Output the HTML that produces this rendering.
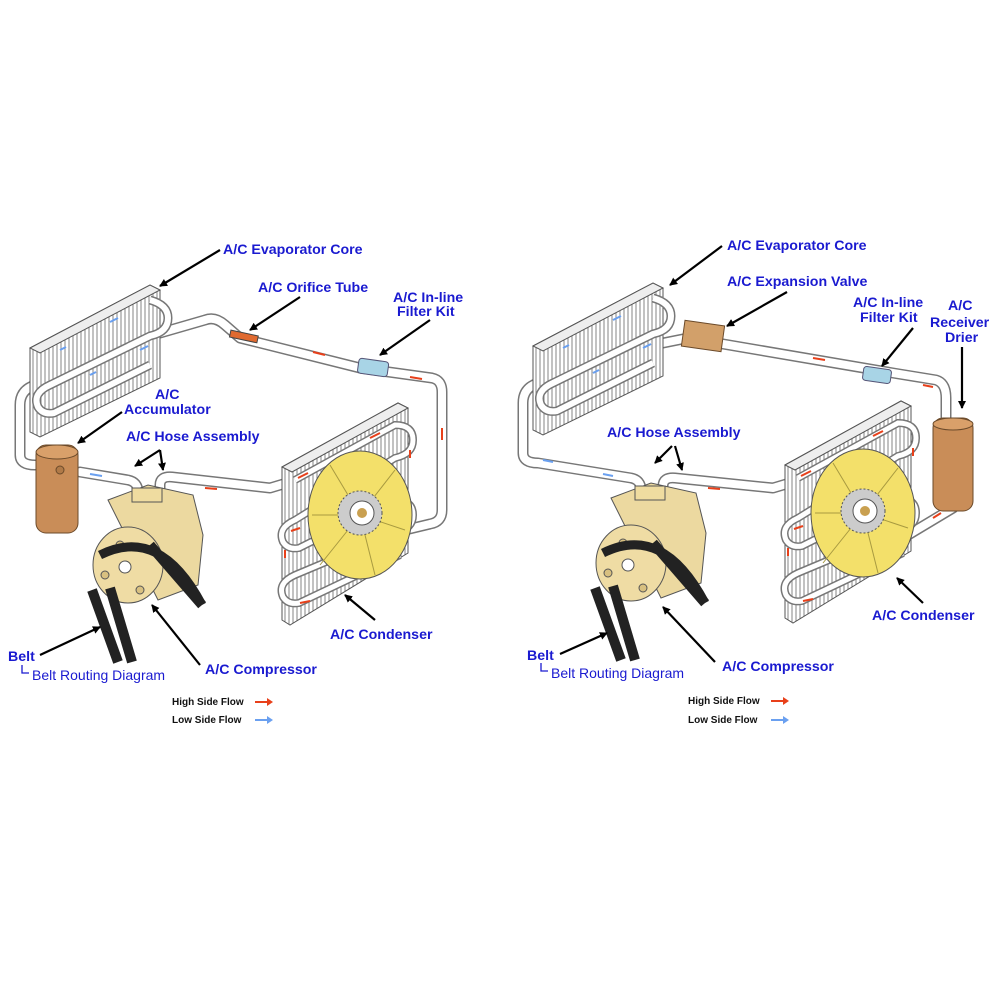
<!DOCTYPE html>
<html><head><meta charset="utf-8"><style>
html,body{margin:0;padding:0;background:#fff;}
svg{display:block}
.l{font-family:"Liberation Sans",Arial,sans-serif;font-weight:bold;font-size:14.2px;fill:#1a1ad0}
.n{font-family:"Liberation Sans",Arial,sans-serif;font-size:14px;fill:#1a1ad0}
.k{font-family:"Liberation Sans",Arial,sans-serif;font-weight:bold;font-size:10px;fill:#111}
.ar{stroke:#000;stroke-width:2.2;fill:none}
.po{fill:none;stroke:#777;stroke-width:11;stroke-linejoin:round;stroke-linecap:round}
.pi{fill:none;stroke:#fff;stroke-width:8;stroke-linejoin:round;stroke-linecap:round}
</style></head><body>
<svg width="1000" height="1000" viewBox="0 0 1000 1000" xmlns="http://www.w3.org/2000/svg">
<defs>
<marker id="ah" markerWidth="8" markerHeight="8" refX="7" refY="4" orient="auto" markerUnits="userSpaceOnUse"><path d="M0,0 L8,4 L0,8 z" fill="#000"/></marker>
<pattern id="hat" width="4" height="10" patternUnits="userSpaceOnUse"><rect width="4" height="10" fill="#fff"/><line x1="1" y1="0" x2="1" y2="10" stroke="#666" stroke-width="0.8"/></pattern>
<g id="evap">
  <polygon points="30,348 150,285 160,290 160,378 40,437 30,432" fill="url(#hat)" stroke="#555" stroke-width="1"/>
  <polygon points="30,348 150,285 160,290 40,353" fill="#eee" stroke="#555"/>
  <path d="M150,300 q18,5 18,18 q0,14 -18,18 L50,385 q-18,8 -12,22 q5,8 16,6 L150,365" fill="none" stroke="#777" stroke-width="9"/>
  <path d="M150,300 q18,5 18,18 q0,14 -18,18 L50,385 q-18,8 -12,22 q5,8 16,6 L150,365" fill="none" stroke="#fff" stroke-width="6"/>
  <path d="M60,350 l6,-3 M110,322 l8,-4 M90,375 l6,-3 M140,350 l8,-4" stroke="#6aa0f0" stroke-width="2"/>
</g>
<g id="cond">
  <polygon points="282,467 398,403 408,408 408,553 290,625 282,620" fill="url(#hat)" stroke="#555"/>
  <polygon points="282,467 398,403 408,408 292,472" fill="#eee" stroke="#555"/>
  <path d="M295,480 L395,425 q18,0 18,15 q0,14 -18,18 L295,520 q-18,8 -12,22 q5,8 16,6 L395,500 q18,0 18,15 q0,14 -18,18 L295,575 q-18,8 -12,22 q5,8 16,6 L400,555" fill="none" stroke="#777" stroke-width="8"/>
  <path d="M295,480 L395,425 q18,0 18,15 q0,14 -18,18 L295,520 q-18,8 -12,22 q5,8 16,6 L395,500 q18,0 18,15 q0,14 -18,18 L295,575 q-18,8 -12,22 q5,8 16,6 L400,555" fill="none" stroke="#fff" stroke-width="5"/>
  <path d="M298,478 l10,-5 M370,438 l10,-5 M410,450 l0,8 M300,528 l-9,3 M285,550 l0,8 M300,603 l10,-2 M370,570 l10,-4 M405,525 l-8,3" stroke="#e8401a" stroke-width="2"/>
  <ellipse cx="330" cy="505" rx="12" ry="28" fill="#3b6ad8"/>
  <ellipse cx="360" cy="515" rx="52" ry="64" fill="#f3e06a" stroke="#555"/>
  <path d="M360,515 L330,465 M360,515 L395,470 M360,515 L405,530 M360,515 L375,575 M360,515 L320,565 M360,515 L312,515" stroke="#a89a40" stroke-width="1"/>
  <circle cx="360" cy="513" r="22" fill="#ccc" stroke="#555" stroke-dasharray="2 2"/>
  <circle cx="362" cy="513" r="12" fill="#fff" stroke="#555"/>
  <circle cx="362" cy="513" r="5" fill="#c9a050"/>
</g>
<g id="comp">
  <path d="M108,500 l40,-15 l45,10 l10,40 l-5,50 l-40,15 z" fill="#ecd9a0" stroke="#555"/>
  <rect x="132" y="488" width="30" height="14" fill="#efdca0" stroke="#555"/>
  <ellipse cx="128" cy="565" rx="35" ry="38" fill="#efdca4" stroke="#555"/>
  <circle cx="105" cy="575" r="4" fill="#d8c080" stroke="#555"/>
  <circle cx="140" cy="590" r="4" fill="#d8c080" stroke="#555"/>
  <circle cx="120" cy="545" r="4" fill="#d8c080" stroke="#555"/>
  <circle cx="125" cy="567" r="6" fill="#fff" stroke="#555"/>
  <path d="M100,555 q60,-30 102,50" stroke="#222" stroke-width="9" fill="none"/>
  <path d="M150,545 L202,605" stroke="#222" stroke-width="10"/>
  <path d="M92,590 L118,662" stroke="#222" stroke-width="10"/>
  <path d="M110,588 L132,662" stroke="#222" stroke-width="10"/>
</g>
</defs>

<!-- LEFT DIAGRAM -->
<path class="po" d="M160,333 L205,320 Q215,316 225,325 L240,338 L360,368 L432,378 Q442,380 442,392 L442,510 Q442,522 430,524 L405,530"/>
<path class="pi" d="M160,333 L205,320 Q215,316 225,325 L240,338 L360,368 L432,378 Q442,380 442,392 L442,510 Q442,522 430,524 L405,530"/>
<path class="po" d="M35,385 Q20,390 20,405 L20,455 Q20,465 35,465"/>
<path class="pi" d="M35,385 Q20,390 20,405 L20,455 Q20,465 35,465"/>
<path class="po" d="M80,472 L128,480 Q138,482 138,492 L138,500"/>
<path class="pi" d="M80,472 L128,480 Q138,482 138,492 L138,500"/>
<path class="po" d="M160,495 L160,485 Q160,476 172,477 L270,488 L290,482"/>
<path class="pi" d="M160,495 L160,485 Q160,476 172,477 L270,488 L290,482"/>
<rect x="230" y="333" width="28" height="7" fill="#e06a30" stroke="#444" transform="rotate(12 244 336)"/>
<rect x="358" y="360" width="30" height="15" rx="3" fill="#a8d4e6" stroke="#557" transform="rotate(8 373 368)"/>
<path d="M313,352 l12,3 M410,377 l12,2 M442,440 l0,-12 M205,488 l12,1" stroke="#e8401a" stroke-width="2"/>
<path d="M90,474 l12,2 M138,488 l0,6" stroke="#6aa0f0" stroke-width="2"/>
<use href="#evap"/>
<use href="#cond"/>
<rect x="36" y="445" width="42" height="88" rx="10" fill="#c98d58" stroke="#6b4a2a"/>
<ellipse cx="57" cy="452" rx="21" ry="7" fill="#d9a06a" stroke="#6b4a2a"/>
<circle cx="60" cy="470" r="4" fill="#b07a48" stroke="#6b4a2a"/>
<use href="#comp"/>

<text class="l" x="223" y="254">A/C Evaporator Core</text>
<text class="l" x="258" y="292">A/C Orifice Tube</text>
<text class="l" x="393" y="302">A/C In-line</text>
<text class="l" x="397" y="316">Filter Kit</text>
<text class="l" x="155" y="399">A/C</text>
<text class="l" x="124" y="414">Accumulator</text>
<text class="l" x="126" y="441">A/C Hose Assembly</text>
<text class="l" x="8" y="661">Belt</text>
<path d="M22,665 l0,8 l7,0" stroke="#1a1ad0" fill="none" stroke-width="1.3"/>
<text class="n" x="32" y="680">Belt Routing Diagram</text>
<text class="l" x="205" y="674">A/C Compressor</text>
<text class="l" x="330" y="639">A/C Condenser</text>
<text class="k" x="172" y="705">High Side Flow</text>
<text class="k" x="172" y="723">Low Side Flow</text>
<path d="M255,702 l16,0" stroke="#e8401a" stroke-width="2"/><path d="M267,698 l6,4 l-6,4z" fill="#e8401a"/>
<path d="M255,720 l16,0" stroke="#6aa0f0" stroke-width="2"/><path d="M267,716 l6,4 l-6,4z" fill="#6aa0f0"/>

<line class="ar" x1="220" y1="250" x2="160" y2="286" marker-end="url(#ah)"/>
<line class="ar" x1="300" y1="297" x2="250" y2="330" marker-end="url(#ah)"/>
<line class="ar" x1="430" y1="320" x2="380" y2="355" marker-end="url(#ah)"/>
<line class="ar" x1="122" y1="412" x2="78" y2="443" marker-end="url(#ah)"/>
<line class="ar" x1="160" y1="450" x2="135" y2="466" marker-end="url(#ah)"/>
<line class="ar" x1="160" y1="450" x2="163" y2="470" marker-end="url(#ah)"/>
<line class="ar" x1="40" y1="655" x2="100" y2="627" marker-end="url(#ah)"/>
<line class="ar" x1="200" y1="665" x2="152" y2="605" marker-end="url(#ah)"/>
<line class="ar" x1="375" y1="620" x2="345" y2="595" marker-end="url(#ah)"/>

<!-- RIGHT DIAGRAM -->
<g transform="translate(503,-2)">
<path class="po" d="M160,345 L185,340 L390,375 L433,382 Q443,385 443,400 L443,420"/>
<path class="pi" d="M160,345 L185,340 L390,375 L433,382 Q443,385 443,400 L443,420"/>
<path class="po" d="M35,385 Q20,390 20,405 L20,455 Q20,465 35,465 L128,480 Q138,482 138,492 L138,505"/>
<path class="pi" d="M35,385 Q20,390 20,405 L20,455 Q20,465 35,465 L128,480 Q138,482 138,492 L138,505"/>
<path class="po" d="M160,498 L160,488 Q160,479 172,480 L270,490 L290,484"/>
<path class="pi" d="M160,498 L160,488 Q160,479 172,480 L270,490 L290,484"/>
<path class="po" d="M450,510 L400,540"/>
<path class="pi" d="M450,510 L400,540"/>
<path d="M310,360 l12,2 M420,387 l10,2 M205,490 l12,1 M430,520 l8,-5" stroke="#e8401a" stroke-width="2"/>
<path d="M40,462 l10,2 M100,476 l10,2" stroke="#6aa0f0" stroke-width="2"/>
<use href="#evap"/>
<use href="#cond"/>
<rect x="180" y="325" width="40" height="26" fill="#d2a06a" stroke="#6b4a2a" transform="rotate(8 200 338)"/>
<rect x="360" y="370" width="28" height="14" rx="3" fill="#a8d4e6" stroke="#557" transform="rotate(8 374 377)"/>
<rect x="430" y="420" width="40" height="93" rx="10" fill="#c98d58" stroke="#6b4a2a"/>
<ellipse cx="450" cy="426" rx="20" ry="6" fill="#d9a06a" stroke="#6b4a2a"/>
<use href="#comp"/>
</g>

<text class="l" x="727" y="250">A/C Evaporator Core</text>
<text class="l" x="727" y="286">A/C Expansion Valve</text>
<text class="l" x="853" y="307">A/C In-line</text>
<text class="l" x="860" y="322">Filter Kit</text>
<text class="l" x="948" y="310">A/C</text>
<text class="l" x="930" y="327">Receiver</text>
<text class="l" x="945" y="342">Drier</text>
<text class="l" x="607" y="437">A/C Hose Assembly</text>
<text class="l" x="527" y="660">Belt</text>
<path d="M541,663 l0,8 l7,0" stroke="#1a1ad0" fill="none" stroke-width="1.3"/>
<text class="n" x="551" y="678">Belt Routing Diagram</text>
<text class="l" x="722" y="671">A/C Compressor</text>
<text class="l" x="872" y="620">A/C Condenser</text>
<text class="k" x="688" y="704">High Side Flow</text>
<text class="k" x="688" y="723">Low Side Flow</text>
<path d="M771,701 l16,0" stroke="#e8401a" stroke-width="2"/><path d="M783,697 l6,4 l-6,4z" fill="#e8401a"/>
<path d="M771,720 l16,0" stroke="#6aa0f0" stroke-width="2"/><path d="M783,716 l6,4 l-6,4z" fill="#6aa0f0"/>

<line class="ar" x1="722" y1="246" x2="670" y2="285" marker-end="url(#ah)"/>
<line class="ar" x1="787" y1="292" x2="727" y2="326" marker-end="url(#ah)"/>
<line class="ar" x1="913" y1="328" x2="882" y2="366" marker-end="url(#ah)"/>
<line class="ar" x1="962" y1="347" x2="962" y2="408" marker-end="url(#ah)"/>
<line class="ar" x1="672" y1="446" x2="655" y2="463" marker-end="url(#ah)"/>
<line class="ar" x1="675" y1="446" x2="682" y2="470" marker-end="url(#ah)"/>
<line class="ar" x1="560" y1="654" x2="607" y2="633" marker-end="url(#ah)"/>
<line class="ar" x1="715" y1="662" x2="663" y2="607" marker-end="url(#ah)"/>
<line class="ar" x1="923" y1="603" x2="897" y2="578" marker-end="url(#ah)"/>
</svg>
</body></html>
